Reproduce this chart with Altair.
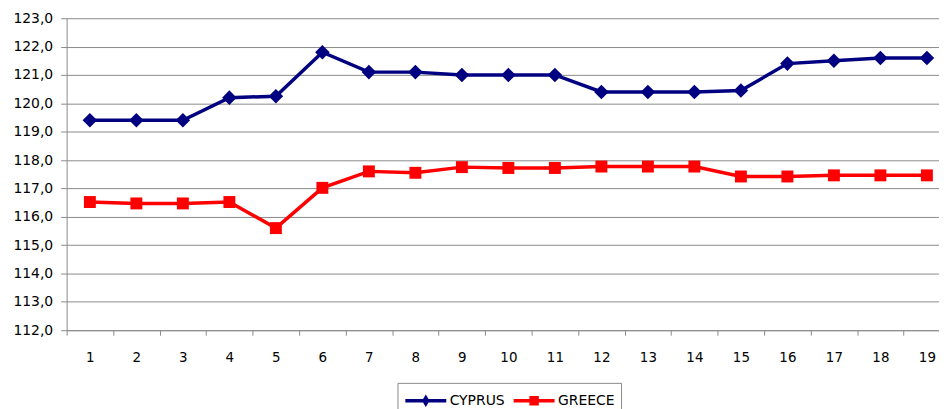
import altair as alt
import pandas as pd

# ---- data ----
periods = list(range(1, 20))
cyprus = [119.4, 119.4, 119.4, 120.2, 120.25, 121.8, 121.1, 121.1, 121.0, 121.0,
          121.0, 120.4, 120.4, 120.4, 120.45, 121.4, 121.5, 121.6, 121.6]
greece = [116.52, 116.47, 116.47, 116.52, 115.6, 117.02, 117.6, 117.55, 117.75, 117.72,
          117.72, 117.77, 117.77, 117.77, 117.42, 117.42, 117.46, 117.46, 117.46]
series_names = ["CYPRUS", "GREECE"]
series_colors = ["#000080", "#FF0000"]
y_ticks = list(range(112, 124))
x_tick_edges = [p - 0.5 for p in periods]

df = pd.DataFrame({
    "period": periods * 2,
    "value": cyprus + greece,
    "series": [series_names[0]] * len(cyprus) + [series_names[1]] * len(greece),
})

FONT = "DejaVu Sans"
GRAY = "#8a8a8a"

x_enc = alt.X(
    "period:Q",
    title=None,
    scale=alt.Scale(domain=[0.5, 19.26], nice=False, zero=False),
    axis=alt.Axis(
        values=x_tick_edges,
        labelExpr="format(datum.value + 0.5, 'd')",
        labelOffset=23.4,
        labelFlush=False,
        labelOverlap=False,
        labelBound=False,
        grid=False,
        domainColor=GRAY,
        tickColor=GRAY,
        tickSize=5,
        labelPadding=15,
        labelFont=FONT,
        labelFontSize=13.5,
        labelColor="#000000",
    ),
)
y_enc = alt.Y(
    "value:Q",
    title=None,
    scale=alt.Scale(domain=[112, 123], nice=False, zero=False),
    axis=alt.Axis(
        values=y_ticks,
        labelExpr="replace(format(datum.value, '.1f'), '.', ',')",
        grid=True,
        gridColor=GRAY,
        gridWidth=1,
        domainColor=GRAY,
        tickColor=GRAY,
        tickSize=6,
        labelPadding=8,
        labelFont=FONT,
        labelFontSize=14,
        labelColor="#000000",
    ),
)

color_scale = alt.Scale(domain=series_names, range=series_colors)

base = alt.Chart(df).encode(x=x_enc, y=y_enc)

lines = base.mark_line(strokeWidth=3.5).encode(
    color=alt.Color("series:N", scale=color_scale, legend=None)
)

points = base.mark_point(filled=True, opacity=1).encode(
    color=alt.Color("series:N", scale=color_scale, legend=None),
    shape=alt.Shape("series:N", scale=alt.Scale(domain=series_names, range=["diamond", "square"]), legend=None),
    size=alt.Size("series:N", scale=alt.Scale(domain=series_names, range=[215, 144]), legend=None),
)

legend_paths = [
    "M-2.06,0H2.06M0,-0.3L0.18,0L0,0.3L-0.18,0Z",
    "M-2.06,0H2.06M-0.3,-0.3H0.3V0.3H-0.3Z",
]

leg = alt.Legend(
    title=None,
    orient="none",
    legendX=333,
    legendY=367,
    direction="horizontal",
    padding=6,
    strokeColor=GRAY,
    symbolSize=400,
    symbolStrokeWidth=3.5,
    symbolOffset=10.5,
    symbolOpacity=1,
    labelOffset=12,
    labelFont=FONT,
    labelFontSize=14,
    labelColor="#000000",
    columnPadding=1,
)

legend_layer = base.transform_filter("false").mark_point(
    filled=True, opacity=1, size=400, strokeWidth=3.5
).encode(
    fill=alt.Fill("series:N", scale=alt.Scale(domain=series_names, range=series_colors), legend=leg),
    stroke=alt.Stroke("series:N", scale=alt.Scale(domain=series_names, range=series_colors), legend=leg),
    shape=alt.Shape("series:N", scale=alt.Scale(domain=series_names, range=legend_paths), legend=leg),
)

chart = alt.layer(lines, points, legend_layer).resolve_scale(
    shape="independent", fill="independent", stroke="independent"
).properties(
    width=878,
    height=314,
    autosize=alt.AutoSizeParams(type="none"),
    padding={"left": 59, "top": 9, "right": 0, "bottom": 78},
).configure_view(stroke=None)

chart.save("out.html", embed_options={"renderer": "svg", "actions": False})
